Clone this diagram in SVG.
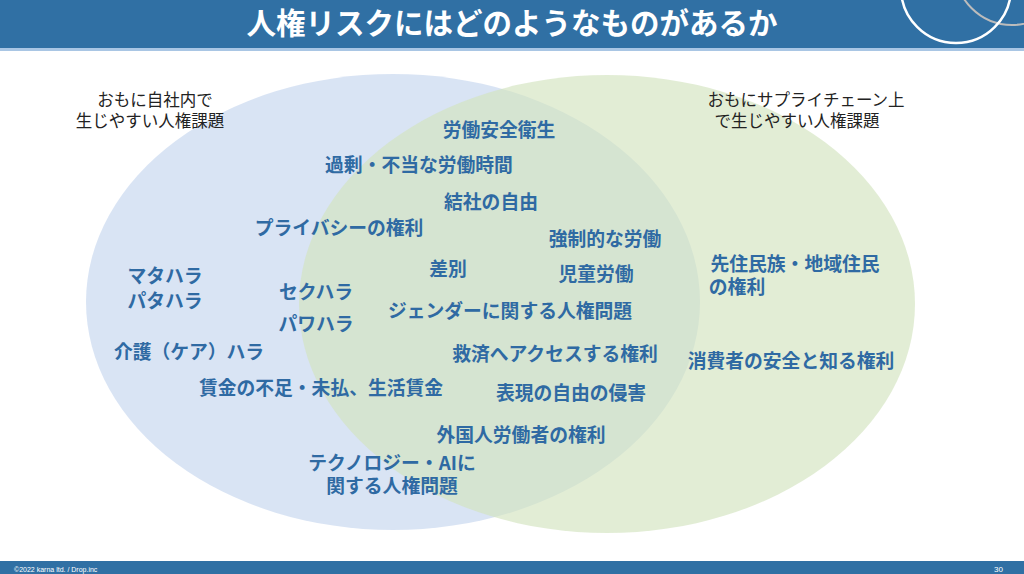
<svg xmlns="http://www.w3.org/2000/svg" width="1024" height="574" viewBox="0 0 1024 574">
<style>
.t{font-family:"Noto Sans CJK JP","Noto Sans",sans-serif;font-weight:bold;font-size:18.8px;fill:#2f6aa3;text-anchor:middle}
.c{font-family:"Noto Sans CJK JP","Noto Sans",sans-serif;font-size:16.5px;fill:#222;text-anchor:middle}
</style>
<rect width="1024" height="574" fill="#fff"/>
<rect width="1024" height="48" fill="#3070a4"/>
<rect y="48" width="1024" height="3" fill="#a9c6e4"/>
<circle cx="1012" cy="-32" r="57" fill="none" stroke="#bcbcbc" stroke-width="2"/>
<circle cx="956" cy="-12" r="55" fill="none" stroke="#fff" stroke-width="2.5"/>
<text x="512" y="34" font-family="Noto Sans CJK JP,sans-serif" font-weight="bold" font-size="29.5" fill="#fff" text-anchor="middle">人権リスクにはどのようなものがあるか</text>
<g id="venn">
<ellipse cx="393" cy="302" rx="307" ry="228" fill="#c5d6ee" fill-opacity="0.65"/>
<ellipse cx="607" cy="304" rx="308" ry="229" fill="#d3e3bf" fill-opacity="0.65"/>
</g>
<g id="labels">
<text class="c" x="155" y="106">おもに自社内で</text>
<text class="c" x="150" y="127">生じやすい人権課題</text>
<text class="c" x="806" y="106">おもにサプライチェーン上</text>
<text class="c" x="797" y="127">で生じやすい人権課題</text>
<text class="t" x="499" y="137">労働安全衛生</text>
<text class="t" x="419" y="172">過剰・不当な労働時間</text>
<text class="t" x="491" y="209">結社の自由</text>
<text class="t" x="339" y="235">プライバシーの権利</text>
<text class="t" x="605" y="246">強制的な労働</text>
<text class="t" x="448" y="276">差別</text>
<text class="t" x="596" y="281">児童労働</text>
<text class="t" x="165" y="283">マタハラ</text>
<text class="t" x="165" y="308">パタハラ</text>
<text class="t" x="316" y="299">セクハラ</text>
<text class="t" x="316" y="331">パワハラ</text>
<text class="t" x="510" y="318">ジェンダーに関する人権問題</text>
<text class="t" x="189" y="359">介護（ケア）ハラ</text>
<text class="t" x="555" y="361">救済へアクセスする権利</text>
<text class="t" x="321" y="395">賃金の不足・未払、生活賃金</text>
<text class="t" x="571" y="400">表現の自由の侵害</text>
<text class="t" x="521" y="442">外国人労働者の権利</text>
<text class="t" x="392" y="470">テクノロジー・AIに</text>
<text class="t" x="392" y="493">関する人権問題</text>
<text class="t" x="795" y="271">先住民族・地域住民</text>
<text class="t" x="737" y="294">の権利</text>
<text class="t" x="791" y="368">消費者の安全と知る権利</text>
</g>
<rect y="561" width="1024" height="13" fill="#3070a4"/>
<text x="14" y="572" font-family="Liberation Sans,sans-serif" font-size="7" fill="#fff">©2022 karna ltd. / Drop.inc</text>
<text x="1003" y="572" font-family="Liberation Sans,sans-serif" font-size="8" fill="#fff" text-anchor="end">30</text>
</svg>
